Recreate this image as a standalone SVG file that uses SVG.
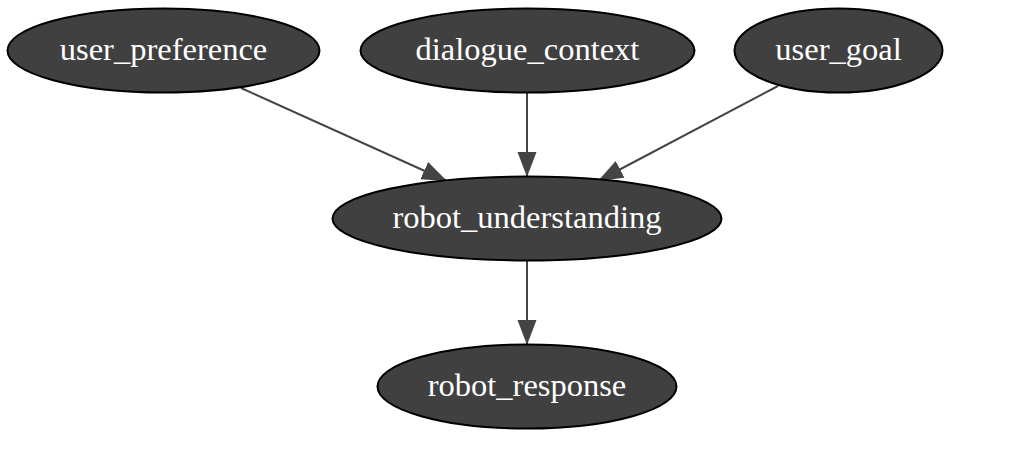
<svg xmlns="http://www.w3.org/2000/svg" width="1034" height="455" viewBox="0 0 1034 455">
<style>
.node ellipse{fill:#404040;stroke:#000;stroke-width:2}
.node text{fill:#fff;font-family:"Liberation Serif","Times New Roman",serif;font-size:32.5px;text-anchor:middle}
.edge{stroke:#444;stroke-width:2;fill:none;marker-end:url(#arr)}
</style>
<defs>
<marker id="arr" markerUnits="userSpaceOnUse" markerWidth="26" markerHeight="20" refX="25" refY="9.5" orient="auto">
<path d="M0,0 L25,9.5 L0,19 Z" fill="#444"/>
</marker>
</defs>
<rect width="1034" height="455" fill="#fff"/>
<g id="edges">
<path class="edge" d="M241,88 L447,181"/>
<path class="edge" d="M527,93 L527,177"/>
<path class="edge" d="M778,86 L598,181"/>
<path class="edge" d="M527,261 L527,345"/>
</g>
<g id="user_preference" class="node"><ellipse cx="163.5" cy="50.5" rx="156" ry="42"/><text x="163.5" y="60">user_preference</text></g>
<g id="dialogue_context" class="node"><ellipse cx="527.5" cy="50.5" rx="167" ry="42"/><text x="527.5" y="60">dialogue_context</text></g>
<g id="user_goal" class="node"><ellipse cx="838.5" cy="50.5" rx="104" ry="42"/><text x="838.5" y="60">user_goal</text></g>
<g id="robot_understanding" class="node"><ellipse cx="527" cy="218.5" rx="194.5" ry="42"/><text x="527" y="228">robot_understanding</text></g>
<g id="robot_response" class="node"><ellipse cx="527" cy="386.5" rx="149.5" ry="42"/><text x="527" y="396">robot_response</text></g>
</svg>
